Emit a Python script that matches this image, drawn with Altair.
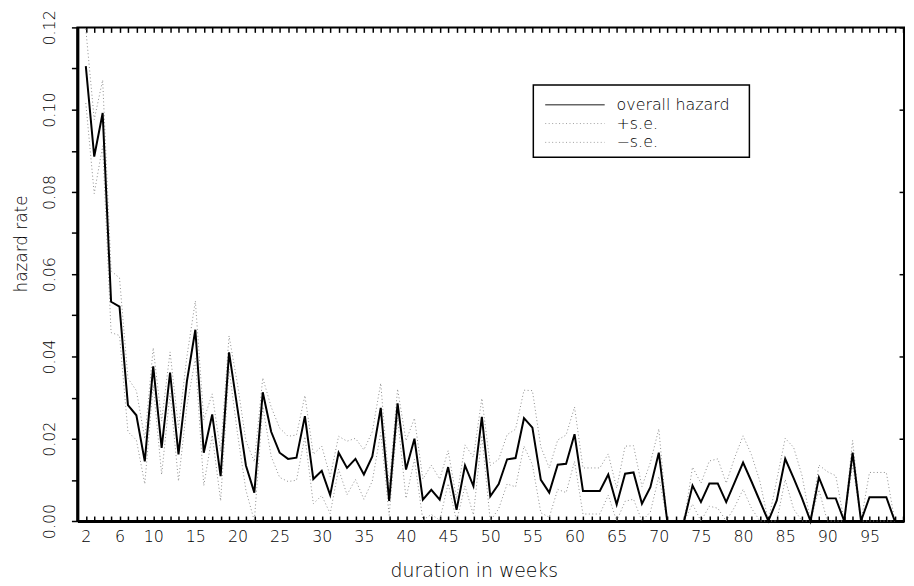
import altair as alt
import pandas as pd

# ---------------- data ----------------
weeks = list(range(2, 99))
hazard = [
    0.1106, 0.0886, 0.0992, 0.0533, 0.0521, 0.0282, 0.0257, 0.0145, 0.0376, 0.0178,   # 2-11
    0.0361, 0.0162, 0.0340, 0.0465, 0.0166, 0.0259, 0.0109, 0.0410, 0.0273, 0.0135,   # 12-21
    0.0069, 0.0313, 0.0217, 0.0166, 0.0151, 0.0154, 0.0255, 0.0102, 0.0122, 0.0063,   # 22-31
    0.0166, 0.0129, 0.0151, 0.0113, 0.0157, 0.0275, 0.0049, 0.0286, 0.0125, 0.0200,   # 32-41
    0.0052, 0.0076, 0.0052, 0.0131, 0.0027, 0.0135, 0.0085, 0.0253, 0.0060, 0.0090,   # 42-51
    0.0150, 0.0153, 0.0250, 0.0227, 0.0100, 0.0069, 0.0137, 0.0139, 0.0211, 0.0073,   # 52-61
    0.0073, 0.0073, 0.0113, 0.0040, 0.0115, 0.0118, 0.0042, 0.0082, 0.0166, 0.0,      # 62-71
    0.0, 0.0, 0.0086, 0.0046, 0.0091, 0.0091, 0.0046, 0.0094, 0.0142, 0.0096,         # 72-81
    0.0048, 0.0, 0.0050, 0.0151, 0.0104, 0.0055, 0.0, 0.0106, 0.0055, 0.0055,         # 82-91
    0.0, 0.0166, 0.0, 0.0058, 0.0058, 0.0058, 0.0,                                    # 92-98
]
std_err = [
    0.0090, 0.0090, 0.0080, 0.0075, 0.0070, 0.0065, 0.0060, 0.0055, 0.0045, 0.0065,
    0.0050, 0.0065, 0.0060, 0.0070, 0.0080, 0.0050, 0.0060, 0.0040, 0.0060, 0.0060,
    0.0075, 0.0035, 0.0060, 0.0060, 0.0055, 0.0055, 0.0050, 0.0060, 0.0060, 0.0045,
    0.0040, 0.0065, 0.0050, 0.0060, 0.0060, 0.0060, 0.0035, 0.0035, 0.0070, 0.0050,
    0.0050, 0.0060, 0.0050, 0.0040, 0.0027, 0.0050, 0.0070, 0.0045, 0.0075, 0.0060,
    0.0060, 0.0070, 0.0068, 0.0090, 0.0080, 0.0060, 0.0060, 0.0070, 0.0066, 0.0056,
    0.0056, 0.0056, 0.0050, 0.0040, 0.0067, 0.0065, 0.0042, 0.0060, 0.0058, 0.0,
    0.0, 0.0, 0.0045, 0.0046, 0.0055, 0.0060, 0.0046, 0.0060, 0.0065, 0.0065,
    0.0048, 0.0, 0.0050, 0.0050, 0.0075, 0.0055, 0.0, 0.0030, 0.0065, 0.0055,
    0.0, 0.0030, 0.0, 0.0060, 0.0060, 0.0060, 0.0,
]
series_names = ["overall hazard", "+s.e.", "\u2212s.e."]
x_label_values = [2, 6, 10, 15, 20, 25, 30, 35, 40, 45, 50, 55, 60, 65, 70, 75, 80, 85, 90, 95]
minor_week_ticks = list(range(2, 100))
y_tick_values = [round(i * 0.01, 2) for i in range(13)]
y_right_ticks = [round(i * 0.02, 2) for i in range(7)]

rows = []
for w, h, s in zip(weeks, hazard, std_err):
    rows.append({"week": w, "series": series_names[0], "rate": h})
    rows.append({"week": w, "series": series_names[1], "rate": h + s})
    rows.append({"week": w, "series": series_names[2], "rate": max(h - s, 0.0)})
df = pd.DataFrame(rows)

# ---------------- layout ----------------
W, H = 834, 498
FONT = "DejaVu Sans"
TXT = "#000"
xscale = alt.Scale(domain=[1, 99.1], nice=False, zero=False)
yscale = alt.Scale(domain=[0, 0.12], nice=False, zero=False)

main_x = alt.X("week:Q", scale=xscale, axis=alt.Axis(
    orient="bottom", values=x_label_values, ticks=False, tickSize=0, format="d",
    domainWidth=3, domainColor="black", labelFontSize=16, labelPadding=8,
    labelColor=TXT, labelFont=FONT, labelFontWeight=300, labelFlush=False,
    title="duration in weeks", titleFont=FONT, titleFontSize=19,
    titleFontWeight=300, titleColor=TXT, titleY=50, titleX=400,
    titleBaseline="middle", grid=False))
main_y = alt.Y("rate:Q", scale=yscale, axis=alt.Axis(
    orient="left", values=y_tick_values, tickSize=6, tickWidth=1.5,
    tickColor="black", domainWidth=3, domainColor="black",
    labelExpr="round(datum.value*100) % 2 == 0 ? format(datum.value, '.2f') : ''",
    labelAngle=270, labelAlign="center", labelBaseline="bottom",
    labelPadding=14, labelFontSize=16, labelColor=TXT, labelFont=FONT,
    labelFontWeight=300,
    title="hazard rate", titleFont=FONT, titleFontSize=17,
    titleFontWeight=300, titleColor=TXT, titleX=-56, titleY=218,
    titleAngle=270, titleAlign="center", titleBaseline="middle", grid=False))

dotted = alt.Chart(df).transform_filter(
    alt.datum.series != series_names[0]
).mark_line(color="#8c8c8c", strokeWidth=1, strokeDash=[1, 2.5]).encode(
    x=main_x, y=main_y, detail="series:N")

solid = alt.Chart(df).transform_filter(
    alt.datum.series == series_names[0]
).mark_line(color="black", strokeWidth=2).encode(
    x=alt.X("week:Q", scale=xscale, axis=None),
    y=alt.Y("rate:Q", scale=yscale, axis=None))

base_inv = alt.Chart(df).transform_filter(
    alt.datum.series == series_names[0]).mark_line(opacity=0)

bottom_inner = base_inv.encode(
    x=alt.X("week:Q", scale=xscale, axis=alt.Axis(
        orient="top", offset=-H, values=minor_week_ticks, labels=False,
        domain=False, tickSize=5, tickWidth=1.5, tickColor="black",
        title=None, grid=False)),
    y=alt.Y("rate:Q", scale=yscale, axis=None))
top_inner = base_inv.encode(
    x=alt.X("week:Q", scale=xscale, axis=alt.Axis(
        orient="bottom", offset=-H, values=minor_week_ticks, labels=False,
        domain=False, tickSize=5, tickWidth=1.5, tickColor="black",
        title=None, grid=False)),
    y=alt.Y("rate:Q", scale=yscale, axis=None))
right_inner = base_inv.encode(
    x=alt.X("week:Q", scale=xscale, axis=None),
    y=alt.Y("rate:Q", scale=yscale, axis=alt.Axis(
        orient="left", offset=-W, values=y_right_ticks, labels=False,
        domain=False, tickSize=5, tickWidth=1.5, tickColor="black",
        title=None, grid=False)))

# ---------------- legend ----------------
one = pd.DataFrame({"k": [0]})
leg_box = alt.Chart(one).mark_rect(fill="white", stroke="black", strokeWidth=1.5).encode(
    x=alt.value(460), x2=alt.value(678), y=alt.value(58), y2=alt.value(131))
leg_rows = [78, 97, 116]
leg_layers = [leg_box]
for i, name in enumerate(series_names):
    if i == 0:
        rule = alt.Chart(one).mark_rule(color="#666", strokeWidth=1.5)
    else:
        rule = alt.Chart(one).mark_rule(color="#a0a0a0", strokeWidth=1, strokeDash=[1, 2.5])
    leg_layers.append(rule.encode(x=alt.value(472), x2=alt.value(532), y=alt.value(leg_rows[i])))
    leg_layers.append(alt.Chart(one).mark_text(
        text=name, align="left", baseline="middle", font=FONT, fontSize=16,
        fontWeight=300, color=TXT).encode(x=alt.value(544), y=alt.value(leg_rows[i])))

chart = alt.layer(
    dotted, solid, bottom_inner, top_inner, right_inner, *leg_layers
).resolve_axis(x="independent", y="independent").properties(
    width=W, height=H,
    autosize=alt.AutoSizeParams(type="none"),
    padding={"left": 70, "top": 17, "right": 2, "bottom": 63},
    background="white",
).configure_view(stroke="black", strokeWidth=2)

chart.save("out.html", embed_options={"renderer": "svg", "actions": False})
